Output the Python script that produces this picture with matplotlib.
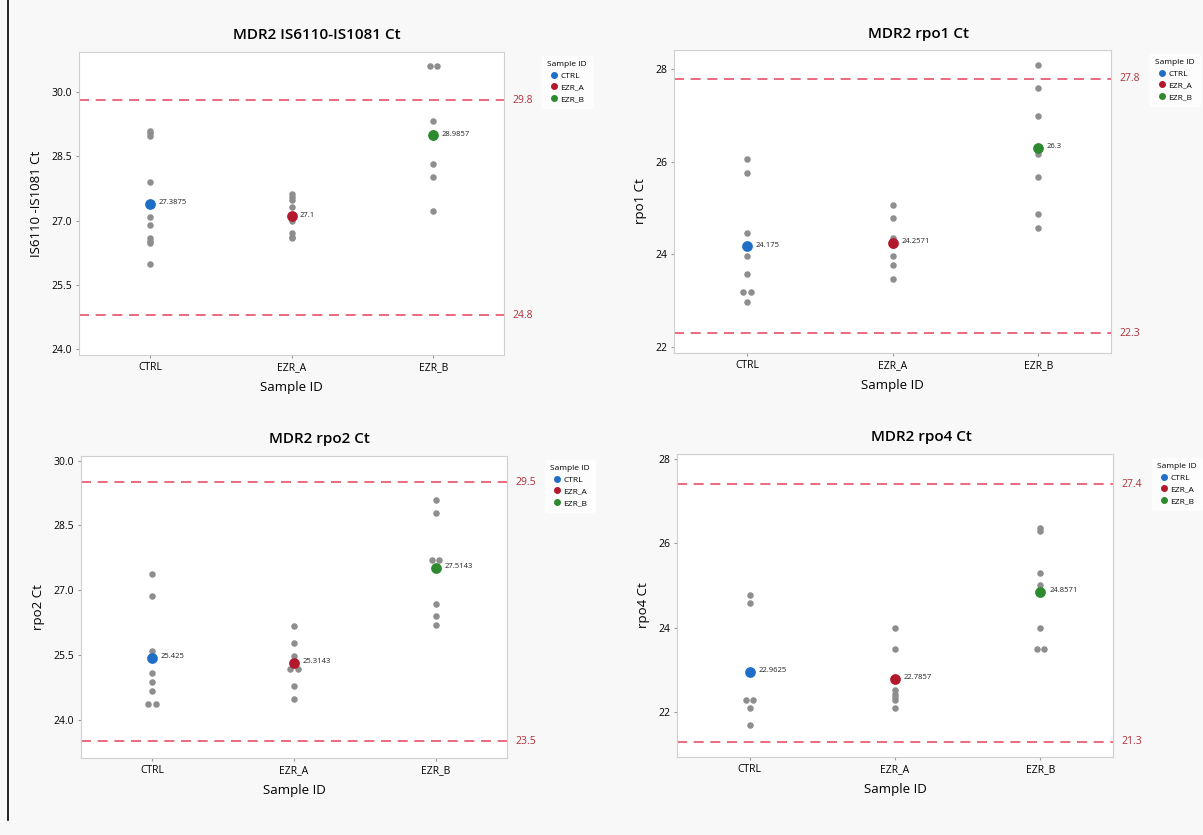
import matplotlib.pyplot as plt
from matplotlib.lines import Line2D
import numpy as np

groups = ["CTRL", "EZR_A", "EZR_B"]
group_colors = ["#1f6fc8", "#b3192d", "#2e8a2e"]

# individual Ct values per sample group
titles = ["MDR2 IS6110-IS1081 Ct", "MDR2 rpo1 Ct", "MDR2 rpo2 Ct", "MDR2 rpo4 Ct"]
ylabels = ["IS6110 -IS1081 Ct", "rpo1 Ct", "rpo2 Ct", "rpo4 Ct"]

is6110_ctrl = [29.09, 29.03, 28.98, 27.89, 27.09, 26.90, 26.59, 26.53, 26.48, 25.98]
is6110_ezra = [27.63, 27.55, 27.47, 27.31, 27.0, 26.70, 26.62, 26.59]
is6110_ezrb = [30.61, 30.61, 29.33, 29.05, 28.95, 28.32, 28.02, 27.22]

rpo1_ctrl = [26.07, 25.77, 24.47, 23.97, 23.57, 23.18, 23.18, 22.97]
rpo1_ezra = [25.08, 24.78, 24.35, 24.20, 23.97, 23.78, 23.48]
rpo1_ezrb = [28.09, 27.59, 26.99, 26.30, 26.18, 25.68, 24.88, 24.58]

rpo2_ctrl = [27.38, 26.87, 25.58, 25.08, 24.87, 24.67, 24.37, 24.37]
rpo2_ezra = [26.18, 25.77, 25.48, 25.17, 25.17, 24.79, 24.48]
rpo2_ezrb = [29.09, 28.78, 27.70, 27.70, 26.68, 26.39, 26.20]

rpo4_ctrl = [24.79, 24.60, 22.30, 22.30, 22.10, 21.69]
rpo4_ezra = [23.99, 23.50, 22.52, 22.44, 22.36, 22.30, 22.11]
rpo4_ezrb = [26.36, 26.30, 25.31, 25.02, 24.00, 23.51, 23.51]

# group means as printed on the chart
mean_values = [[27.3875, 27.1, 28.9857], [24.175, 24.2571, 26.3],
               [25.425, 25.3143, 27.5143], [22.9625, 22.7857, 24.8571]]
mean_labels = [["27.3875", "27.1", "28.9857"], ["24.175", "24.2571", "26.3"],
               ["25.425", "25.3143", "27.5143"], ["22.9625", "22.7857", "24.8571"]]

# reference lines (upper, lower) and their labels
ref_lines = [(29.8, 24.8), (27.8, 22.3), (29.5, 23.5), (27.4, 21.3)]
ref_labels = [("29.8", "24.8"), ("27.8", "22.3"), ("29.5", "23.5"), ("27.4", "21.3")]

yticks = [[24.0, 25.5, 27.0, 28.5, 30.0], [22, 24, 26, 28],
          [24.0, 25.5, 27.0, 28.5, 30.0], [22, 24, 26, 28]]
ylims = [(23.87, 30.93), (21.87, 28.42), (23.11, 30.11), (20.94, 28.12)]

data = [[is6110_ctrl, is6110_ezra, is6110_ezrb],
        [rpo1_ctrl, rpo1_ezra, rpo1_ezrb],
        [rpo2_ctrl, rpo2_ezra, rpo2_ezrb],
        [rpo4_ctrl, rpo4_ezra, rpo4_ezrb]]

positions = [[0.0657, 0.5749, 0.3533, 0.3629],
             [0.5603, 0.5772, 0.3633, 0.3629],
             [0.0673, 0.0922, 0.3541, 0.3617],
             [0.5628, 0.0934, 0.3624, 0.3629]]

plt.rcParams['font.family'] = ['Open Sans', 'DejaVu Sans']

fig = plt.figure(figsize=(12.03, 8.35), dpi=100)
fig.patch.set_facecolor("#f8f8f8")

# frame line on the left side of the scan
fig.add_artist(Line2D([0.007, 0.007], [0.018, 1.0], color="black", lw=1.2))

for k in range(4):
    ax = fig.add_axes(positions[k])
    ax.set_facecolor("white")
    for g in range(3):
        vals = data[k][g]
        xs = []
        seen = {}
        for v in vals:
            n = seen.get(v, 0)
            seen[v] = n + 1
            xs.append(g + (0.025 if n % 2 else (-0.025 if vals.count(v) > 1 else 0)))
        ax.scatter(xs, vals, s=22, color="#8e8e8e", zorder=3, linewidths=0)
        ax.scatter([g], [mean_values[k][g]], s=60, color=group_colors[g], zorder=4, linewidths=0)
        ax.text(g + 0.06, mean_values[k][g] + 0.03, mean_labels[k][g], fontsize=5.5,
                color="#222222", va="center", ha="left", zorder=5)

    up, lo = ref_lines[k]
    for v, lab in zip((up, lo), ref_labels[k]):
        ax.axhline(v, color="#e8506a", ls=(0, (6, 4)), lw=1.2, zorder=2)
        ax.text(1.02, v, lab, transform=ax.get_yaxis_transform(), fontsize=7.5,
                color="#b0303a", va="center", ha="left", clip_on=False)

    ax.set_xlim(-0.5, 2.5)
    ax.set_ylim(*ylims[k])
    ax.set_xticks(range(3))
    ax.set_xticklabels(groups, fontsize=7.5)
    ax.set_yticks(yticks[k])
    if k in (0, 2):
        ax.set_yticklabels(["%.1f" % t for t in yticks[k]], fontsize=7.5)
    else:
        ax.set_yticklabels(["%d" % t for t in yticks[k]], fontsize=7.5)
    ax.tick_params(length=2, color="#999999", pad=3)
    for sp in ax.spines.values():
        sp.set_color("#cfcfcf")
        sp.set_linewidth(0.8)
    ax.set_xlabel("Sample ID", fontsize=9.5, labelpad=6)
    ax.set_ylabel(ylabels[k], fontsize=9.5, labelpad=6)
    ax.set_title(titles[k], fontsize=11, fontweight="semibold", pad=9, x=0.56)

    handles = [Line2D([], [], marker="o", ls="", color=c, markersize=4) for c in group_colors]
    leg = ax.legend(handles, groups, title="Sample ID", loc="upper left",
                    bbox_to_anchor=(1.08, 1.0), frameon=True, fontsize=6,
                    title_fontsize=6, handletextpad=0.3, borderpad=0.6,
                    labelspacing=0.45, handlelength=1.0)
    leg.get_frame().set_facecolor("white")
    leg.get_frame().set_edgecolor("white")

fig.savefig("out.png", dpi=100)
